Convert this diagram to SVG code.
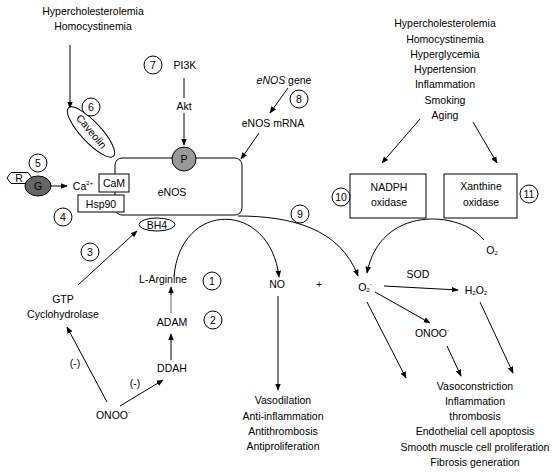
<svg xmlns="http://www.w3.org/2000/svg" width="557" height="474" viewBox="0 0 557 474">
<defs>
<marker id="ah" viewBox="0 0 10 10" refX="9" refY="5" markerWidth="7" markerHeight="7" markerUnits="userSpaceOnUse" orient="auto"><path d="M0,1 L10,5 L0,9 z" fill="#000"/></marker>
<style>
text{font-family:"Liberation Sans",Arial,sans-serif;font-size:10.5px;fill:#000;text-anchor:middle}
.sm{font-size:6px}
.c{fill:#fff;stroke:#000;stroke-width:1}
.b{fill:#fff;stroke:#000;stroke-width:1}
.l{fill:none;stroke:#000;stroke-width:1;marker-end:url(#ah)}
</style>
</defs>
<rect width="557" height="474" fill="#fff"/>

<g id="connectors">
<line class="l" x1="70" y1="45" x2="70" y2="108"/>
<line x1="184" y1="78" x2="184" y2="98" stroke="#000"/>
<line class="l" x1="184" y1="113" x2="184" y2="145"/>
<line class="l" x1="288" y1="88" x2="270" y2="113"/>
<line class="l" x1="259" y1="133" x2="241" y2="159"/>
<line class="l" x1="51" y1="186" x2="67" y2="186"/>
<line class="l" x1="420" y1="119" x2="382" y2="163"/>
<line class="l" x1="473" y1="122" x2="497" y2="163"/>
<path class="l" d="M174,277 C180,200 270,200 279,277"/>
<path class="l" d="M238,216 C290,216 340,228 358,276"/>
<path class="l" d="M484,240 C460,210 380,205 367,273"/>
<line class="l" x1="78" y1="285" x2="137" y2="231"/>
<line x1="171" y1="313" x2="171" y2="292" stroke="#999" stroke-width="1.5"/>
<line class="l" x1="171" y1="295" x2="171" y2="287"/>
<line class="l" x1="171" y1="360" x2="171" y2="334"/>
<line class="l" x1="107" y1="402" x2="67" y2="327"/>
<line class="l" x1="120" y1="406" x2="163" y2="380"/>
<line class="l" x1="278" y1="296" x2="278" y2="390"/>
<line class="l" x1="384" y1="286" x2="458" y2="290"/>
<line class="l" x1="375" y1="292" x2="430" y2="323"/>
<line class="l" x1="367" y1="302" x2="406" y2="378"/>
<line class="l" x1="447" y1="346" x2="461" y2="376"/>
<line class="l" x1="480" y1="302" x2="513" y2="373"/>
</g>

<g id="left-risk">
<text x="93" y="15">Hypercholesterolemia</text>
<text x="93" y="30">Homocystinemia</text>
</g>
<g id="right-risk">
<text x="445" y="27">Hypercholesterolemia</text>
<text x="445" y="43">Homocystinemia</text>
<text x="445" y="58">Hyperglycemia</text>
<text x="445" y="73">Hypertension</text>
<text x="445" y="88">Inflammation</text>
<text x="445" y="104">Smoking</text>
<text x="445" y="119">Aging</text>
</g>

<g id="pi3k"><text x="185" y="69">PI3K</text></g>
<g id="akt"><text x="184" y="110">Akt</text></g>
<g id="enos-gene"><text x="284" y="84"><tspan font-style="italic">eNOS</tspan> gene</text></g>
<g id="enos-mrna"><text x="273" y="127">eNOS mRNA</text></g>

<g id="enos">
<rect class="b" x="115" y="158" width="127" height="57" rx="7"/>
<text x="172" y="196">eNOS</text>
</g>
<g id="caveolin">
<ellipse class="b" cx="91" cy="132" rx="33" ry="10" transform="rotate(47 91 132)"/>
<text x="91" y="135" transform="rotate(50 91 132)">Caveolin</text>
</g>
<g id="p">
<circle cx="184" cy="159" r="12" fill="#999" stroke="#000"/>
<text x="184" y="163">P</text>
</g>
<g id="cam">
<rect class="b" x="99" y="174" width="30" height="18"/>
<text x="114" y="187">CaM</text>
</g>
<g id="hsp90">
<rect class="b" x="78" y="195" width="46" height="17"/>
<text x="101" y="207.5">Hsp90</text>
</g>
<g id="ca"><text x="83" y="190">Ca<tspan class="sm" dy="-5">2+</tspan></text></g>
<g id="r">
<path class="b" d="M7,178 L11,172.5 L28,172.5 L32,178 L28,183.5 L11,183.5 z"/>
<text x="19" y="182">R</text>
</g>
<g id="g">
<ellipse cx="38" cy="186" rx="13" ry="10" fill="#666" stroke="#000"/>
<text x="38" y="190">G</text>
</g>
<g id="bh4">
<ellipse class="b" cx="157" cy="224.5" rx="18" ry="6.5"/>
<text x="157" y="228.5">BH4</text>
</g>

<g id="nadph">
<rect class="b" x="350" y="174" width="76" height="44"/>
<text x="389" y="191">NADPH</text>
<text x="389" y="206">oxidase</text>
</g>
<g id="xanthine">
<rect class="b" x="444" y="174" width="73" height="44"/>
<text x="481" y="190">Xanthine</text>
<text x="481" y="206">oxidase</text>
</g>
<g id="o2-right"><text x="492" y="254">O<tspan class="sm" dy="1">2</tspan></text></g>

<g id="larginine"><text x="163" y="283">L-Arginine</text></g>
<g id="adam"><text x="172" y="326">ADAM</text></g>
<g id="ddah"><text x="172" y="372">DDAH</text></g>
<g id="gtp">
<text x="63" y="303">GTP</text>
<text x="63" y="318">Cyclohydrolase</text>
</g>
<g id="onoo-left"><text x="113" y="419">ONOO<tspan class="sm" dy="-5">-</tspan></text></g>
<g id="neg1"><text x="75" y="367">(-)</text></g>
<g id="neg2"><text x="135" y="387">(-)</text></g>

<g id="no"><text x="277" y="288">NO</text></g>
<g id="plus"><text x="319" y="288">+</text></g>
<g id="o2"><text x="365" y="291">O<tspan class="sm" dy="1">2</tspan><tspan class="sm" dy="-6">-</tspan></text></g>
<g id="sod"><text x="418" y="278">SOD</text></g>
<g id="h2o2"><text x="476" y="294">H<tspan class="sm" dy="1">2</tspan><tspan dy="-1">O</tspan><tspan class="sm" dy="1">2</tspan></text></g>
<g id="onoo-right"><text x="432" y="337">ONOO<tspan class="sm" dy="-5">-</tspan></text></g>

<g id="no-effects">
<text x="283" y="404">Vasodilation</text>
<text x="283" y="420">Anti-inflammation</text>
<text x="283" y="435">Antithrombosis</text>
<text x="283" y="450">Antiproliferation</text>
</g>
<g id="ros-effects">
<text x="475" y="390">Vasoconstriction</text>
<text x="475" y="405">Inflammation</text>
<text x="475" y="420">thrombosis</text>
<text x="475" y="435">Endothelial cell apoptosis</text>
<text x="475" y="451">Smooth muscle cell proliferation</text>
<text x="475" y="466">Fibrosis generation</text>
</g>

<g id="n1"><circle class="c" cx="212" cy="281" r="9"/><text x="212" y="285">1</text></g>
<g id="n2"><circle class="c" cx="213" cy="320" r="9"/><text x="213" y="324">2</text></g>
<g id="n3"><circle class="c" cx="90" cy="252" r="9"/><text x="90" y="256">3</text></g>
<g id="n4"><circle class="c" cx="63" cy="217" r="9"/><text x="63" y="221">4</text></g>
<g id="n5"><circle class="c" cx="38" cy="163" r="9"/><text x="38" y="167">5</text></g>
<g id="n6"><circle class="c" cx="91" cy="107" r="9"/><text x="91" y="111">6</text></g>
<g id="n7"><circle class="c" cx="153" cy="65" r="9"/><text x="153" y="69">7</text></g>
<g id="n8"><circle class="c" cx="299" cy="99" r="9"/><text x="299" y="103">8</text></g>
<g id="n9"><circle class="c" cx="300" cy="214" r="9"/><text x="300" y="218">9</text></g>
<g id="n10"><circle class="c" cx="341" cy="197" r="9"/><text x="341" y="201">10</text></g>
<g id="n11"><circle class="c" cx="529" cy="194" r="9"/><text x="529" y="198">11</text></g>
</svg>
